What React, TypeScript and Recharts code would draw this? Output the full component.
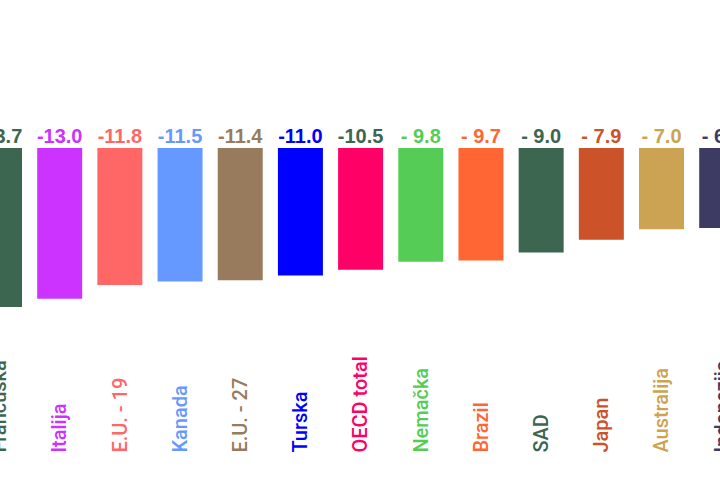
import React from "react";
import { BarChart, Bar, XAxis, YAxis, Cell, LabelList } from "recharts";

const categories = [
  "Francuska", "Italija", "E.U. - 19", "Kanada", "E.U. - 27", "Turska",
  "OECD total", "Nemačka", "Brazil", "SAD", "Japan", "Australija", "Indonezija",
];
const values = [-13.7, -13.0, -11.8, -11.5, -11.4, -11.0, -10.5, -9.8, -9.7, -9.0, -7.9, -7.0, -6.9];
const barColors = [
  "#3c6650", "#cc33ff", "#ff6666", "#6699ff", "#987a5c", "#0000ff",
  "#ff0066", "#55cc55", "#ff6633", "#3c6650", "#cc5229", "#cca352", "#3d3a63",
];
const valueColors = [
  "#3c6650", "#cc33ff", "#ff6666", "#6699ff", "#987a5c", "#0000ff",
  "#3c6650", "#55cc55", "#ff6633", "#3c6650", "#cc5229", "#cca352", "#3d3a63",
];
const nameColors = [
  "#3c6650", "#cc33ff", "#ff6666", "#6699ff", "#987a5c", "#0000ff",
  "#ff0066", "#55cc55", "#ff6633", "#3c6650", "#cc5229", "#cca352", "#3d3a63",
];

const data = categories.map((name, i) => ({ name, value: values[i] }));

const fmt = (v: number) => {
  const a = Math.abs(v).toFixed(1);
  return Math.abs(v) >= 10 ? `-${a}` : `- ${a}`;
};

const ValueLabel = (props: any) => {
  const { x, y, width, height, index, value } = props;
  const top = Math.min(y, y + height);
  return (
    <text
      x={x + width / 2}
      y={top - 5}
      textAnchor="middle"
      fill={valueColors[index]}
      fontFamily="'Liberation Sans', Arial, sans-serif"
      fontWeight="bold"
      fontSize={20}
    >
      {fmt(value)}
    </text>
  );
};

const NameTick = (props: any) => {
  const { x, y, payload, index } = props;
  return (
    <text
      transform={`translate(${x},${y + 111}) rotate(-90)`}
      textAnchor="start"
      dy="0.36em"
      fill={nameColors[index]}
      fontFamily="Roboto, 'Liberation Sans', sans-serif"
      fontWeight={500}
      fontSize={20}
    >
      {payload.value}
    </text>
  );
};

export default function App() {
  return (
    <div
      style={{
        position: "absolute",
        left: 0,
        top: 0,
        width: 720,
        height: 480,
        overflow: "hidden",
        background: "#ffffff",
      }}
    >
      <div style={{ position: "absolute", left: -31.5, top: 0 }}>
        <BarChart
          width={782.4}
          height={480}
          data={data}
          margin={{ top: 148, right: 0, left: 0, bottom: 0 }}
          barSize={45}
        >
          <YAxis hide domain={[-16, 0]} />
          <XAxis
            dataKey="name"
            axisLine={false}
            tickLine={false}
            height={146.4}
            interval={0}
            tick={<NameTick />}
          />
          <Bar dataKey="value" isAnimationActive={false}>
            {data.map((d, i) => (
              <Cell key={d.name} fill={barColors[i]} />
            ))}
            <LabelList dataKey="value" content={<ValueLabel />} />
          </Bar>
        </BarChart>
      </div>
    </div>
  );
}
